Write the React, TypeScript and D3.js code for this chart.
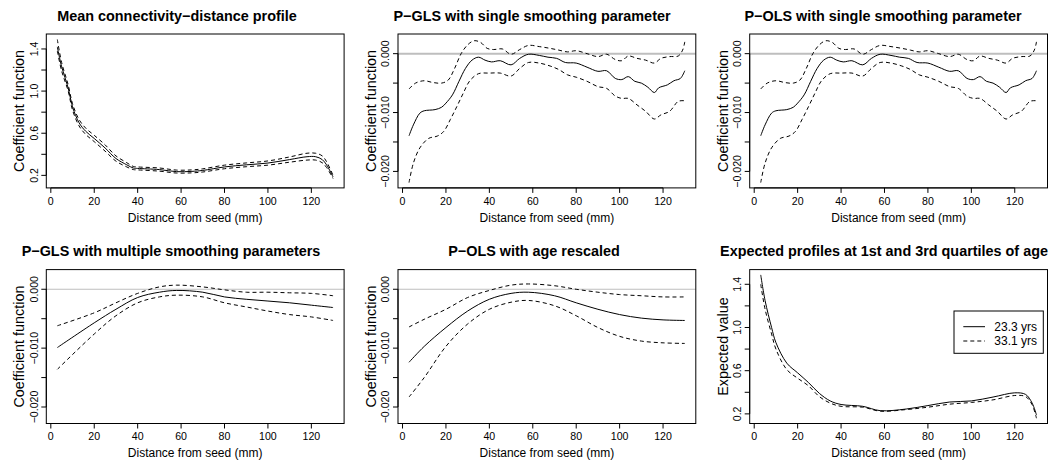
import React from "react";
import * as d3 from "d3";

// ---------- data ----------
const xTicks = [0, 20, 40, 60, 80, 100, 120];
const profileTicks = [0.2, 0.4, 0.6, 0.8, 1.0, 1.2, 1.4];
const profileTickLabels = [0.2, 0.6, 1.0, 1.4];
const coefTicks = [0, -0.005, -0.01, -0.015, -0.02];
const coefTickLabels = [0, -0.01, -0.02];

// Panel 1: mean connectivity-distance profile
const meanX = [3, 5, 8, 10, 13, 16, 20, 25, 30, 35, 38, 40, 50, 58, 65, 70, 80, 90, 100, 110, 118, 122, 125, 127, 130];
const meanFit = [1.42, 1.23, 1.03, 0.85, 0.7, 0.62, 0.55, 0.46, 0.36, 0.3, 0.27, 0.266, 0.255, 0.235, 0.238, 0.247, 0.28, 0.3, 0.317, 0.35, 0.377, 0.377, 0.35, 0.3, 0.185];
const meanUpper = [1.49, 1.27, 1.06, 0.88, 0.73, 0.65, 0.58, 0.49, 0.385, 0.32, 0.285, 0.28, 0.27, 0.25, 0.252, 0.262, 0.297, 0.318, 0.337, 0.375, 0.41, 0.41, 0.385, 0.33, 0.2];
const meanLower = [1.38, 1.19, 1.0, 0.82, 0.67, 0.59, 0.52, 0.43, 0.335, 0.28, 0.255, 0.252, 0.24, 0.222, 0.224, 0.232, 0.263, 0.282, 0.297, 0.325, 0.345, 0.345, 0.32, 0.275, 0.17];

// Panel 2: P-GLS with single smoothing parameter
const pglsFitX = [3, 5, 8, 10, 15, 18, 20, 23, 26, 29, 32, 35, 38, 41, 45, 50, 54, 58, 63, 67, 71, 75, 80, 85, 90, 94, 98, 101, 104, 107, 110, 113, 116, 118, 122, 125, 128, 130];
const pglsFit = [-0.01395, -0.0121, -0.0101, -0.0097, -0.0095, -0.0091, -0.0084, -0.007, -0.0047, -0.0025, -0.0011, -0.0006, -0.0011, -0.0014, -0.0012, -0.0019, -0.0008, -0.0001, -0.0003, -0.0006, -0.0008, -0.0015, -0.0016, -0.0023, -0.003, -0.0029, -0.0042, -0.0044, -0.0039, -0.0047, -0.005, -0.0057, -0.0066, -0.0058, -0.0053, -0.0046, -0.0042, -0.0029];
const pglsUpperX = [3, 6, 10, 14, 18, 21, 24, 27, 30, 33, 36, 39, 42, 46, 50, 54, 58, 63, 68, 72, 76, 80, 85, 90, 94, 98, 101, 104, 108, 112, 116, 119, 123, 127, 129, 130];
const pglsUpper = [-0.006, -0.005, -0.0046, -0.0049, -0.005, -0.0045, -0.0025, 0.0, 0.0015, 0.0022, 0.0019, 0.0009, 0.0007, 0.0008, -0.0001, 0.0007, 0.0014, 0.0012, 0.0009, 0.0006, 0.0003, 0.0005, 0.0, -0.0005, -0.0001, -0.001, -0.0012, -0.0004, -0.0008, -0.0011, -0.0016, -0.0008, -0.0005, -0.0004, 0.0006, 0.002];
const pglsLowerX = [3, 5, 8, 12, 16, 19, 22, 25, 28, 31, 35, 40, 45, 50, 54, 58, 63, 68, 72, 76, 80, 85, 90, 94, 98, 101, 104, 108, 112, 116, 119, 123, 127, 130];
const pglsLower = [-0.0219, -0.0186, -0.016, -0.0144, -0.014, -0.0132, -0.0112, -0.009, -0.0067, -0.0046, -0.0034, -0.0033, -0.0033, -0.0038, -0.0025, -0.0015, -0.0016, -0.0021, -0.0027, -0.0036, -0.004, -0.0047, -0.0056, -0.0059, -0.0072, -0.0076, -0.0076, -0.0087, -0.0098, -0.0111, -0.0104, -0.0098, -0.0081, -0.008];

// Panel 3: P-OLS with single smoothing parameter (reads the same as panel 2)
const polsFit = [-0.01395, -0.0121, -0.0101, -0.0097, -0.0095, -0.0091, -0.0084, -0.007, -0.0047, -0.0025, -0.0011, -0.0006, -0.0011, -0.0014, -0.0012, -0.0019, -0.0008, -0.0001, -0.0003, -0.0006, -0.0008, -0.0015, -0.0016, -0.0023, -0.003, -0.0029, -0.0042, -0.0044, -0.0039, -0.0047, -0.005, -0.0057, -0.0066, -0.0058, -0.0053, -0.0046, -0.0042, -0.0029];
const polsUpper = [-0.006, -0.005, -0.0046, -0.0049, -0.005, -0.0045, -0.0025, 0.0, 0.0015, 0.0022, 0.0019, 0.0009, 0.0007, 0.0008, -0.0001, 0.0007, 0.0014, 0.0012, 0.0009, 0.0006, 0.0003, 0.0005, 0.0, -0.0005, -0.0001, -0.001, -0.0012, -0.0004, -0.0008, -0.0011, -0.0016, -0.0008, -0.0005, -0.0004, 0.0006, 0.002];
const polsLower = [-0.0219, -0.0186, -0.016, -0.0144, -0.014, -0.0132, -0.0112, -0.009, -0.0067, -0.0046, -0.0034, -0.0033, -0.0033, -0.0038, -0.0025, -0.0015, -0.0016, -0.0021, -0.0027, -0.0036, -0.004, -0.0047, -0.0056, -0.0059, -0.0072, -0.0076, -0.0076, -0.0087, -0.0098, -0.0111, -0.0104, -0.0098, -0.0081, -0.008];

// Panel 4: P-GLS with multiple smoothing parameters
const smoothX = [3, 20, 30, 40, 50, 58, 70, 80, 90, 100, 110, 120, 130];
const multiFit = [-0.0099, -0.0057, -0.0034, -0.0014, -0.0005, -0.0002, -0.0005, -0.0013, -0.0017, -0.002, -0.0023, -0.0027, -0.0031];
const multiUpper = [-0.0062, -0.004, -0.0023, -0.0007, 0.0004, 0.0007, 0.0004, -0.0001, -0.0005, -0.0005, -0.0006, -0.0007, -0.0011];
const multiLower = [-0.0136, -0.0076, -0.0045, -0.0023, -0.0013, -0.001, -0.0013, -0.0023, -0.003, -0.0037, -0.0043, -0.0047, -0.0053];

// Panel 5: P-OLS with age rescaled
const rescaledX = [3, 10, 20, 30, 40, 50, 58, 70, 80, 90, 100, 110, 120, 130];
const rescaledFit = [-0.0124, -0.0097, -0.0065, -0.0037, -0.0017, -0.0007, -0.0005, -0.0011, -0.0023, -0.0034, -0.0043, -0.0049, -0.0052, -0.0053];
const rescaledUpper = [-0.0064, -0.0051, -0.0034, -0.0014, -0.0002, 0.0007, 0.0009, 0.0006, 0.0, -0.0005, -0.0009, -0.0011, -0.0013, -0.0013];
const rescaledLower = [-0.0183, -0.015, -0.0097, -0.0059, -0.0034, -0.0022, -0.0019, -0.0028, -0.0045, -0.0065, -0.008, -0.0088, -0.0091, -0.0092];

// Panel 6: expected profiles at 1st and 3rd quartiles of age
const ageX = [3, 5, 8, 10, 15, 20, 25, 30, 35, 40, 50, 58, 70, 80, 90, 100, 110, 120, 125, 128, 130];
const ageQ1 = [1.487, 1.25, 1.0, 0.86, 0.67, 0.58, 0.49, 0.39, 0.32, 0.287, 0.27, 0.23, 0.245, 0.277, 0.31, 0.32, 0.356, 0.395, 0.38, 0.3, 0.19];
const ageQ3 = [1.4, 1.17, 0.94, 0.8, 0.61, 0.53, 0.46, 0.36, 0.3, 0.27, 0.262, 0.225, 0.24, 0.262, 0.29, 0.306, 0.33, 0.37, 0.36, 0.285, 0.16];
const legendLabels = ["23.3 yrs", "33.1 yrs"];

const titles = [
  "Mean connectivity\u2212distance profile",
  "P\u2212GLS with single smoothing parameter",
  "P\u2212OLS with single smoothing parameter",
  "P\u2212GLS with multiple smoothing parameters",
  "P\u2212OLS with age rescaled",
  "Expected profiles at 1st and 3rd quartiles of age",
];

// ---------- layout ----------
const W = 1055;
const H = 462;
const FONT = "'Liberation Sans', Arial, Helvetica, sans-serif";
const colLeft = [46.3, 398, 749.7];
const boxW = 297.8;
const rowTop = [34, 269.6];
const boxH = 153.9;
const titleCx = [177, 532, 883, 171, 534, 884];
const xDomain: [number, number] = [-2.08, 135.08];
const coefDomain: [number, number] = [-0.0228, 0.00334];

type Series = { x: number[]; y: number[]; dashed: boolean };
type PanelDef = {
  title: string;
  yTitle: string;
  yDomain: [number, number];
  ticks: number[];
  labels: number[];
  fmt: (v: number) => string;
  series: Series[];
  zero?: number;
  legend?: boolean;
};

const fmtProfile = (v: number) => v.toFixed(1);
const fmtCoef = (v: number) => (v < 0 ? "\u2212" : "") + Math.abs(v).toFixed(3);

const panels: PanelDef[] = [
  {
    title: titles[0], yTitle: "Coefficient function", yDomain: [0.081, 1.542],
    ticks: profileTicks, labels: profileTickLabels, fmt: fmtProfile,
    series: [
      { x: meanX, y: meanUpper, dashed: true },
      { x: meanX, y: meanLower, dashed: true },
      { x: meanX, y: meanFit, dashed: false },
    ],
  },
  {
    title: titles[1], yTitle: "Coefficient function", yDomain: coefDomain,
    ticks: coefTicks, labels: coefTickLabels, fmt: fmtCoef, zero: 2,
    series: [
      { x: pglsUpperX, y: pglsUpper, dashed: true },
      { x: pglsLowerX, y: pglsLower, dashed: true },
      { x: pglsFitX, y: pglsFit, dashed: false },
    ],
  },
  {
    title: titles[2], yTitle: "Coefficient function", yDomain: coefDomain,
    ticks: coefTicks, labels: coefTickLabels, fmt: fmtCoef, zero: 2,
    series: [
      { x: pglsUpperX, y: polsUpper, dashed: true },
      { x: pglsLowerX, y: polsLower, dashed: true },
      { x: pglsFitX, y: polsFit, dashed: false },
    ],
  },
  {
    title: titles[3], yTitle: "Coefficient function", yDomain: coefDomain,
    ticks: coefTicks, labels: coefTickLabels, fmt: fmtCoef, zero: 1,
    series: [
      { x: smoothX, y: multiUpper, dashed: true },
      { x: smoothX, y: multiLower, dashed: true },
      { x: smoothX, y: multiFit, dashed: false },
    ],
  },
  {
    title: titles[4], yTitle: "Coefficient function", yDomain: coefDomain,
    ticks: coefTicks, labels: coefTickLabels, fmt: fmtCoef, zero: 1,
    series: [
      { x: rescaledX, y: rescaledUpper, dashed: true },
      { x: rescaledX, y: rescaledLower, dashed: true },
      { x: rescaledX, y: rescaledFit, dashed: false },
    ],
  },
  {
    title: titles[5], yTitle: "Expected value", yDomain: [0.111, 1.536],
    ticks: profileTicks, labels: profileTickLabels, fmt: fmtProfile, legend: true,
    series: [
      { x: ageX, y: ageQ3, dashed: true },
      { x: ageX, y: ageQ1, dashed: false },
    ],
  },
];

function Panel({ def, idx }: { def: PanelDef; idx: number }) {
  const col = idx % 3;
  const row = Math.floor(idx / 3);
  const left = colLeft[col];
  const top = rowTop[row];
  const right = left + boxW;
  const bottom = top + boxH;
  const xs = d3.scaleLinear().domain(xDomain).range([left, right]);
  const ys = d3.scaleLinear().domain(def.yDomain).range([bottom, top]);
  const clipId = `clip${idx}`;
  const line = (s: Series) =>
    d3
      .line<number>()
      .x((_, i) => xs(s.x[i]))
      .y((v) => ys(v))
      .curve(d3.curveCatmullRom.alpha(0.5))(s.y) || "";
  const yFirst = ys(def.ticks[0]);
  const yLast = ys(def.ticks[def.ticks.length - 1]);
  return (
    <g>
      <defs>
        <clipPath id={clipId}>
          <rect x={left} y={top} width={boxW} height={boxH} />
        </clipPath>
      </defs>
      <text x={titleCx[idx]} y={top - 13.5} textAnchor="middle" fontWeight="bold" fontSize={14.4} fontFamily={FONT}>
        {def.title}
      </text>
      {def.zero ? (
        <line x1={left} x2={right} y1={ys(0)} y2={ys(0)} stroke="#bebebe" strokeWidth={def.zero} clipPath={`url(#${clipId})`} />
      ) : null}
      <g clipPath={`url(#${clipId})`} fill="none" stroke="#000">
        {def.series.map((s, i) => (
          <path key={i} d={line(s)} strokeWidth={1} strokeDasharray={s.dashed ? "4,3" : undefined} />
        ))}
      </g>
      <rect x={left} y={top} width={boxW} height={boxH} fill="none" stroke="#000" strokeWidth={1} />
      {/* x axis */}
      <line x1={xs(xTicks[0])} x2={xs(xTicks[xTicks.length - 1])} y1={bottom} y2={bottom} stroke="#000" />
      {xTicks.map((t) => (
        <g key={t}>
          <line x1={xs(t)} x2={xs(t)} y1={bottom} y2={bottom + 5} stroke="#000" />
          <text x={xs(t)} y={bottom + 16.7} textAnchor="middle" fontSize={10.6} fontFamily={FONT}>
            {t}
          </text>
        </g>
      ))}
      <text x={(left + right) / 2} y={bottom + 33.7} textAnchor="middle" fontSize={12} fontFamily={FONT}>
        Distance from seed (mm)
      </text>
      {/* y axis */}
      <line x1={left} x2={left} y1={yFirst} y2={yLast} stroke="#000" />
      {def.ticks.map((t) => (
        <line key={t} x1={left - 5} x2={left} y1={ys(t)} y2={ys(t)} stroke="#000" />
      ))}
      {def.labels.map((t) => (
        <text
          key={t}
          transform={`translate(${left - 8.8},${ys(t)}) rotate(-90)`}
          textAnchor="middle"
          fontSize={10.6}
          fontFamily={FONT}
        >
          {def.fmt(t)}
        </text>
      ))}
      <text
        transform={`translate(${left - 22},${(top + bottom) / 2}) rotate(-90)`}
        textAnchor="middle"
        fontSize={14.4}
        fontFamily={FONT}
      >
        {def.yTitle}
      </text>
      {def.legend ? (
        <g>
          <rect x={954} y={311} width={89.3} height={42.3} fill="#fff" stroke="#000" />
          {legendLabels.map((lab, i) => (
            <g key={lab}>
              <line
                x1={963.3}
                x2={985}
                y1={326.7 + i * 14.3}
                y2={326.7 + i * 14.3}
                stroke="#000"
                strokeDasharray={i === 1 ? "4,3" : undefined}
              />
              <text x={994.3} y={330.9 + i * 14.3} fontSize={12} fontFamily={FONT}>
                {lab}
              </text>
            </g>
          ))}
        </g>
      ) : null}
    </g>
  );
}

export default function App() {
  return (
    <svg
      width={W}
      height={H}
      viewBox={`0 0 ${W} ${H}`}
      style={{ position: "absolute", left: 0, top: 0, background: "#fff" }}
    >
      <rect x={0} y={0} width={W} height={H} fill="#fff" />
      {panels.map((p, i) => (
        <Panel key={i} def={p} idx={i} />
      ))}
    </svg>
  );
}
